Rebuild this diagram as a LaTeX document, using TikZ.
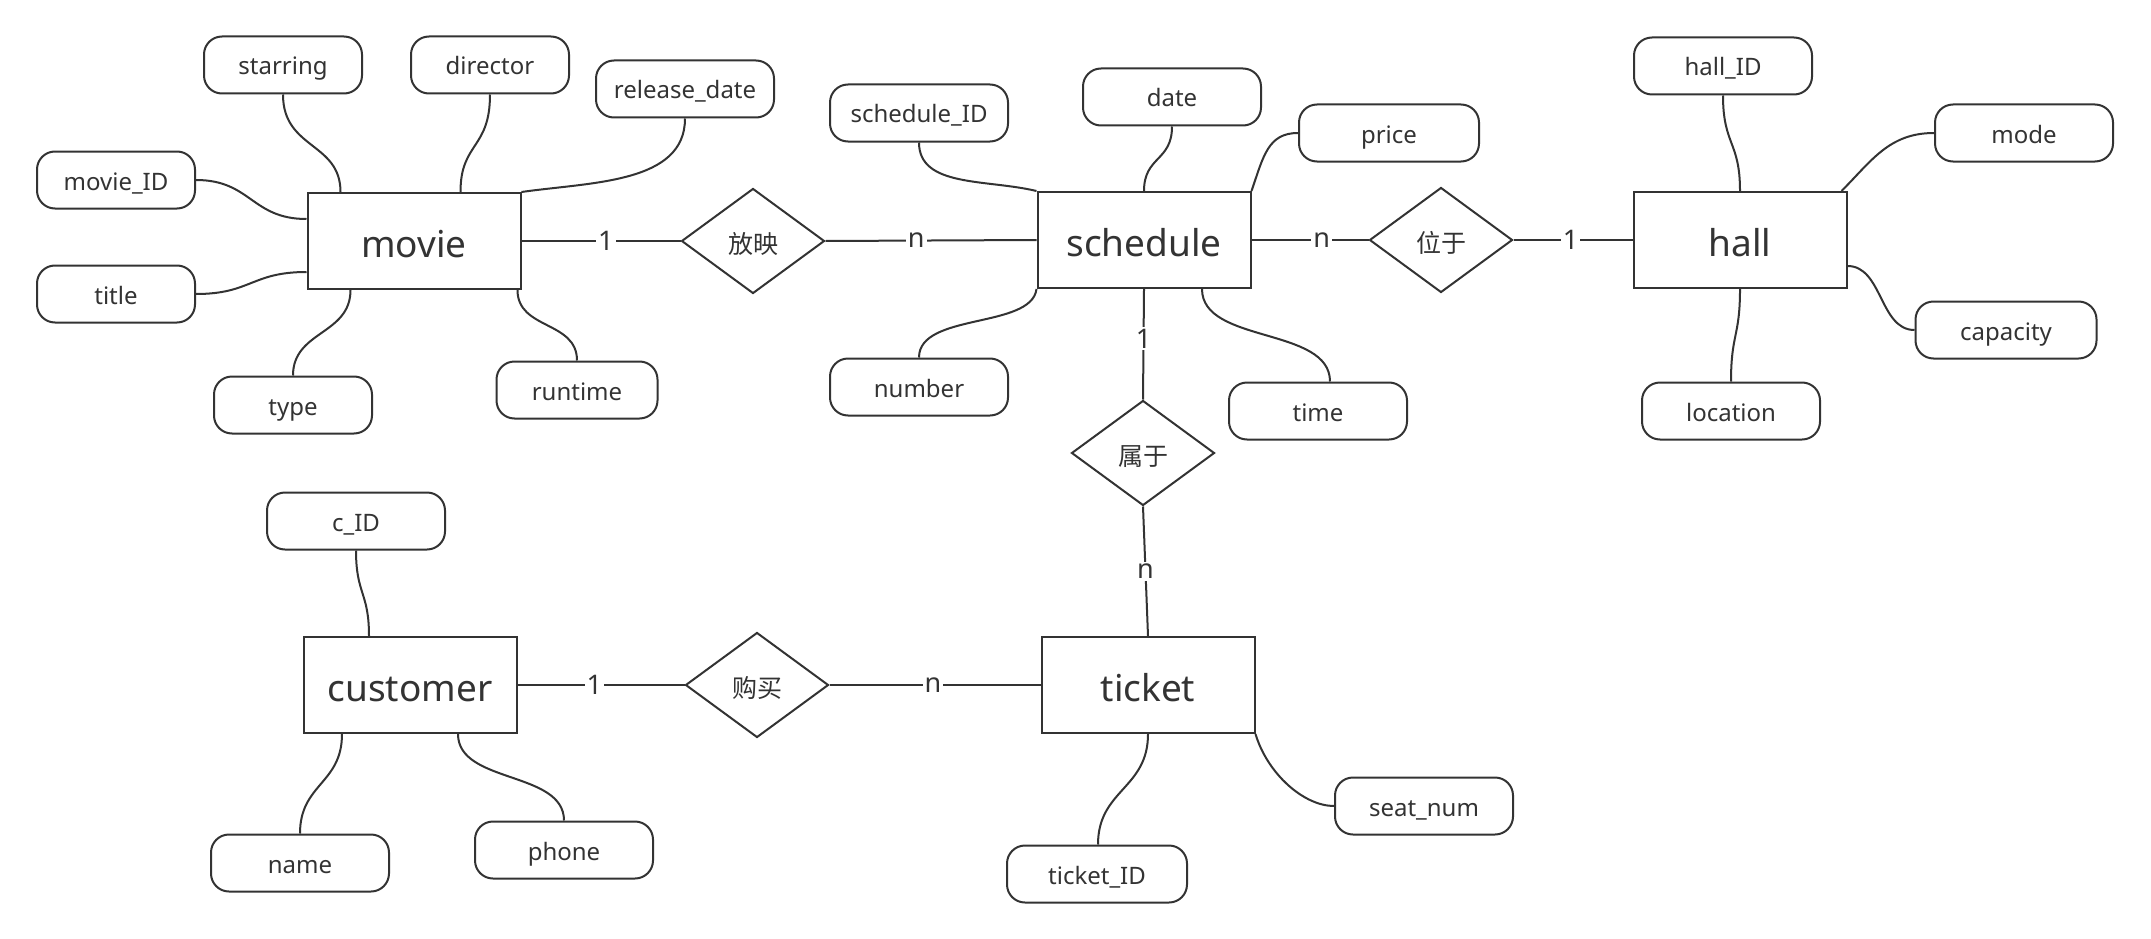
\documentclass[tikz,border=0pt]{standalone}
\usepackage{fontspec}
\setmainfont{Noto Sans}
\newfontfamily\cjk{Noto Sans CJK SC}
\usetikzlibrary{shapes.geometric}
\definecolor{ink}{HTML}{333333}
\begin{document}
\begin{tikzpicture}[x=1pt,y=-1pt,color=ink,line width=2pt,
  attr/.style={draw, rounded corners=18pt, minimum width=#1, minimum height=57pt, inner sep=0pt, text height=20pt, text depth=0pt, font=\fontsize{24}{28}\selectfont},
  attr/.default=178pt,
  ent/.style={draw, minimum width=213pt, minimum height=96pt, inner sep=0pt, text height=33pt, text depth=0pt, font=\fontsize{37}{44}\selectfont},
  rel/.style={draw, diamond, minimum width=143pt, minimum height=105pt, inner sep=0pt, text height=24pt, text depth=0pt, font=\cjk\fontsize{25}{30}\selectfont},
  card/.style={fill=white, inner sep=2pt, font=\fontsize{27}{30}\selectfont},
  conn/.style={line width=2pt}]
\useasboundingbox (0,0) rectangle (2151,939);

% entities
\node[ent] (movie) at (414,241) {movie};
\node[ent] (schedule) at (1144,240) {schedule};
\node[ent] (hall) at (1740,240) {hall};
\node[ent] (customer) at (410,685) {customer};
\node[ent] (ticket) at (1148,685) {ticket};

% relationships
\node[rel] (fy) at (753,241) {放映};
\node[rel] (wy) at (1441,240) {位于};
\node[rel] (sy) at (1143,453) {属于};
\node[rel] (gm) at (757,685) {购买};

% attributes
\node[attr=158pt] (starring) at (283,65) {starring};
\node[attr=158pt] (director) at (490,65) {director};
\node[attr] (release) at (685,89) {release\_date};
\node[attr=158pt] (movieID) at (116,180) {movie\_ID};
\node[attr=158pt] (title) at (116,294) {title};
\node[attr=158pt] (type) at (293,405) {type};
\node[attr=161pt] (runtime) at (577,390) {runtime};

\node[attr] (scheduleID) at (919,113) {schedule\_ID};
\node[attr] (date) at (1172,97) {date};
\node[attr=180pt] (price) at (1389,133) {price};
\node[attr] (number) at (919,387) {number};
\node[attr] (time) at (1318,411) {time};

\node[attr] (hallID) at (1723,66) {hall\_ID};
\node[attr] (mode) at (2024,133) {mode};
\node[attr=181pt] (capacity) at (2006,330) {capacity};
\node[attr] (location) at (1731,411) {location};

\node[attr] (cID) at (356,521) {c\_ID};
\node[attr] (name) at (300,863) {name};
\node[attr] (phone) at (564,850) {phone};
\node[attr=180pt] (ticketID) at (1097,874) {ticket\_ID};
\node[attr] (seat) at (1424,806) {seat\_num};

% relationship lines
\draw[conn] (movie.east) -- node[card,pos=0.53]{1} (fy.west);
\draw[conn] (fy.east) -- node[card,pos=0.43]{n} (schedule.west);
\draw[conn] (schedule.east) -- node[card,pos=0.6]{n} (wy.west);
\draw[conn] (wy.east) -- node[card,pos=0.48]{1} (hall.west);
\draw[conn] (schedule.south) -- node[card,pos=0.45]{1} (sy.north);
\draw[conn] (sy.south) -- node[card,pos=0.5]{n} (ticket.north);
\draw[conn] (customer.east) -- node[card,pos=0.46]{1} (gm.west);
\draw[conn] (gm.east) -- node[card,pos=0.49]{n} (ticket.west);

% movie attributes
\draw[conn] (starring.south) .. controls +(0,55) and +(0,-50) .. ([xshift=34pt]movie.north west);
\draw[conn] (director.south) .. controls +(0,55) and +(0,-50) .. ([xshift=154pt]movie.north west);
\draw[conn] (release.south) .. controls +(0,65) and +(70,-10) .. (movie.north east);
\draw[conn] (movieID.east) .. controls +(55,0) and +(-55,0) .. ([yshift=22pt]movie.west);
\draw[conn] (title.east) .. controls +(55,0) and +(-55,0) .. ([yshift=-31pt]movie.west);
\draw[conn] (type.north) .. controls +(0,-45) and +(0,45) .. ([xshift=44pt]movie.south west);
\draw[conn] (runtime.north) .. controls +(0,-40) and +(0,40) .. ([xshift=-4pt]movie.south east);

% schedule attributes
\draw[conn] (scheduleID.south) .. controls +(0,45) and +(-50,-12) .. (schedule.north west);
\draw[conn] (date.south) .. controls +(0,35) and +(0,-35) .. (schedule.north);
\draw[conn] (price.west) .. controls +(-30,0) and +(12,-35) .. (schedule.north east);
\draw[conn] (number.north) .. controls +(0,-45) and +(-5,40) .. (schedule.south west);
\draw[conn] ([xshift=12pt]time.north) .. controls +(0,-55) and +(0,55) .. ([xshift=58pt]schedule.south);

% hall attributes
\draw[conn] (hallID.south) .. controls +(0,50) and +(0,-50) .. (hall.north);
\draw[conn] (mode.west) .. controls +(-45,0) and +(30,-30) .. ([xshift=-6pt]hall.north east);
\draw[conn] (capacity.west) .. controls +(-35,0) and +(35,0) .. ([yshift=-26pt]hall.east);
\draw[conn] (location.north) .. controls +(0,-48) and +(0,48) .. (hall.south);

% customer attributes
\draw[conn] (cID.south) .. controls +(0,44) and +(0,-44) .. ([xshift=-41pt]customer.north);
\draw[conn] (name.north) .. controls +(0,-50) and +(0,50) .. ([xshift=-68pt]customer.south);
\draw[conn] (phone.north) .. controls +(0,-50) and +(0,50) .. ([xshift=48pt]customer.south);

% ticket attributes
\draw[conn] ([xshift=1pt]ticketID.north) .. controls +(0,-55) and +(0,55) .. (ticket.south);
\draw[conn] (seat.west) .. controls +(-30,0) and +(12,40) .. (ticket.south east);
\end{tikzpicture}
\end{document}
